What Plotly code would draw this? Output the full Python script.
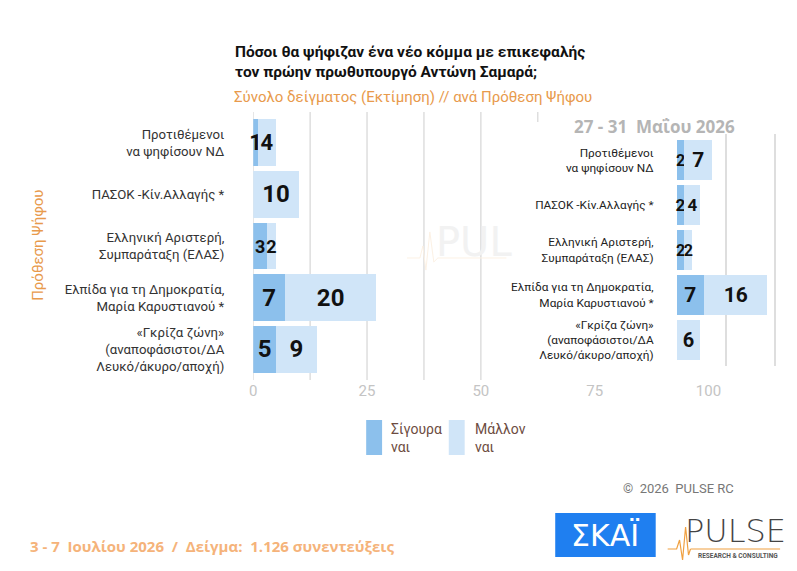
import plotly.graph_objects as go

W, H = 797, 571

# ---------------- data ----------------
categories = [
    "Προτιθέμενοι<br>να ψηφίσουν ΝΔ",
    "ΠΑΣΟΚ -Κίν.Αλλαγής *",
    "Ελληνική Αριστερή,<br>Συμπαράταξη (ΕΛΑΣ)",
    "Ελπίδα για τη Δημοκρατία,<br>Μαρία Καρυστιανού *",
    "«Γκρίζα ζώνη»<br>(αναποφάσιστοι/ΔΑ<br>Λευκό/άκυρο/αποχή)",
]
series_names = ["Σίγουρα ναι", "Μάλλον ναι"]

# current wave (3 - 7 Ιουλίου 2026)
cur_sure = [1, 0, 3, 7, 5]
cur_maybe = [4, 10, 2, 20, 9]

# previous wave (27 - 31 Μαΐου 2026)
prev_sure = [2, 2, 2, 7, 0]
prev_maybe = [7, 4, 2, 16, 6]

x_ticks = [0, 25, 50, 75, 100]

# label font sizes (as seen in the picture)
cur_sure_fs = [22, 22, 18, 24, 24]
cur_maybe_fs = [22, 24, 18, 24, 24]
prev_sure_fs = [16, 17, 16, 21, 16]
prev_maybe_fs = [21, 17, 16, 21, 20]

# ---------------- style ----------------
C_SURE = "#8cc0ec"
C_MAYBE = "#d0e5f8"
GRID = "#dedede"
ORANGE = "#e89a4c"
NUMFONT = "Roboto, sans-serif"


def px(x):
    return x / W


def py(y):
    return 1 - y / H


def lbl(v):
    return [str(a) if a else "" for a in v]


fig = go.Figure()

# left panel (current)
fig.add_trace(go.Bar(
    y=categories, x=cur_sure, orientation="h", name=series_names[0],
    marker=dict(color=C_SURE, line=dict(width=0)), width=0.91,
    text=lbl(cur_sure), textposition="inside", insidetextanchor="middle",
    constraintext="none", cliponaxis=False,
    textfont=dict(family=NUMFONT, size=cur_sure_fs, color="#111111", weight="bold"),
    xaxis="x", yaxis="y", showlegend=False, hoverinfo="x+y+name"))
fig.add_trace(go.Bar(
    y=categories, x=cur_maybe, orientation="h", name=series_names[1],
    marker=dict(color=C_MAYBE, line=dict(width=0)), width=0.91,
    text=lbl(cur_maybe), textposition="inside", insidetextanchor="middle",
    constraintext="none", cliponaxis=False,
    textfont=dict(family=NUMFONT, size=cur_maybe_fs, color="#111111", weight="bold"),
    xaxis="x", yaxis="y", showlegend=False, hoverinfo="x+y+name"))

# right panel (previous)
fig.add_trace(go.Bar(
    y=categories, x=prev_sure, orientation="h", name=series_names[0],
    marker=dict(color=C_SURE, line=dict(width=0)), width=0.9,
    text=lbl(prev_sure), textposition="inside", insidetextanchor="middle",
    constraintext="none", cliponaxis=False,
    textfont=dict(family=NUMFONT, size=prev_sure_fs, color="#111111", weight="bold"),
    xaxis="x2", yaxis="y2", showlegend=False, hoverinfo="x+y+name"))
fig.add_trace(go.Bar(
    y=categories, x=prev_maybe, orientation="h", name=series_names[1],
    marker=dict(color=C_MAYBE, line=dict(width=0)), width=0.9,
    text=lbl(prev_maybe), textposition="inside", insidetextanchor="middle",
    constraintext="none", cliponaxis=False,
    textfont=dict(family=NUMFONT, size=prev_maybe_fs, color="#111111", weight="bold"),
    xaxis="x2", yaxis="y2", showlegend=False, hoverinfo="x+y+name"))

left_scale = 4.575  # px per unit
right_scale = 3.96

fig.update_layout(
    width=W, height=H,
    margin=dict(l=0, r=0, t=0, b=0),
    paper_bgcolor="white", plot_bgcolor="white",
    barmode="stack",
    showlegend=False,
    font=dict(family="Roboto, sans-serif", color="#333333"),
    xaxis=dict(
        domain=[px(250.5), 1], range=[0, (W - 250.5) / left_scale],
        tickvals=x_ticks, ticktext=[str(v) for v in x_ticks],
        showgrid=False, zeroline=False, showline=False, ticks="",
        tickfont=dict(size=15, color="#c4c4c4"), anchor="y", fixedrange=True,
    ),
    yaxis=dict(
        domain=[py(380), py(112)], range=[4.6, -0.6],
        showgrid=False, zeroline=False, showline=False, ticks="",
        ticklabelstandoff=28,
        tickfont=dict(size=13.2, color="#333333"), anchor="x", fixedrange=True,
    ),
    xaxis2=dict(
        domain=[px(676), 1], range=[0, (W - 676) / right_scale],
        tickvals=[0, 12.5, 25], showticklabels=False,
        showgrid=True, gridcolor=GRID, gridwidth=1.5,
        zeroline=False, showline=False, ticks="", anchor="y2", fixedrange=True,
    ),
    yaxis2=dict(
        domain=[py(366), py(134)], range=[4.58, -0.58],
        showgrid=False, zeroline=False, showline=False, ticks="",
        ticklabelstandoff=22,
        tickfont=dict(size=11.8, color="#222222"), anchor="x2", fixedrange=True,
    ),
)

shapes = []
# left panel gridlines (the right part is hidden behind the inset panel)
for v in [0, 12.5, 25, 37.5, 50]:
    shapes.append(dict(type="line", xref="x", yref="paper", x0=v, x1=v,
                       y0=py(380), y1=py(112), line=dict(color=GRID, width=1.5),
                       layer="below"))
shapes.append(dict(type="line", xref="x", yref="paper", x0=62.5, x1=62.5,
                   y0=py(122), y1=py(112), line=dict(color=GRID, width=1.5),
                   layer="below"))

# custom legend swatches
shapes.append(dict(type="rect", xref="paper", yref="paper",
                   x0=px(364), x1=px(380), y0=py(455), y1=py(420),
                   fillcolor=C_SURE, line=dict(width=0)))
shapes.append(dict(type="rect", xref="paper", yref="paper",
                   x0=px(447), x1=px(463), y0=py(455), y1=py(420),
                   fillcolor=C_MAYBE, line=dict(width=0)))

# SKAI logo box
shapes.append(dict(type="rect", xref="paper", yref="paper",
                   x0=px(554), x1=px(655), y0=py(557), y1=py(513),
                   fillcolor="#1f7ff0", line=dict(width=0)))
# PULSE logo lines
shapes.append(dict(type="line", xref="paper", yref="paper",
                   x0=px(690), x1=px(780), y0=py(549), y1=py(549),
                   line=dict(color="#f0a040", width=1.2)))
pulse_pts = [(667, 549), (676, 549), (679, 540), (682, 560), (685, 527), (688, 555), (690, 549)]
path = "M " + " L ".join(f"{px(a):.4f},{py(b):.4f}" for a, b in pulse_pts)
shapes.append(dict(type="path", xref="paper", yref="paper", path=path,
                   line=dict(color="#f0a040", width=1.2)))
# faint watermark pulse
wm_pts = [(405, 258), (418, 258), (421, 246), (424, 270), (428, 232), (432, 262), (436, 258), (505, 258)]
path2 = "M " + " L ".join(f"{px(a):.4f},{py(b):.4f}" for a, b in wm_pts)
shapes.append(dict(type="path", xref="paper", yref="paper", path=path2,
                   line=dict(color="#fcf1e4", width=1), layer="below"))

annotations = [
    dict(text="<b>Πόσοι θα ψήφιζαν ένα νέο κόμμα με επικεφαλής<br>τον πρώην πρωθυπουργό Αντώνη Σαμαρά;</b>",
         x=px(230), y=py(41), xref="paper", yref="paper", xanchor="left", yanchor="top",
         align="left", showarrow=False,
         font=dict(family="Roboto, sans-serif", size=15.5, color="#111111")),
    dict(text="Σύνολο δείγματος (Εκτίμηση) // ανά Πρόθεση Ψήφου",
         x=px(229), y=py(97), xref="paper", yref="paper", xanchor="left", yanchor="middle",
         showarrow=False,
         font=dict(family="Roboto, sans-serif", size=15, color=ORANGE)),
    dict(text="Πρόθεση Ψήφου", textangle=-90,
         x=px(34), y=py(245), xref="paper", yref="paper", xanchor="center", yanchor="middle",
         showarrow=False, font=dict(family="Roboto, sans-serif", size=15, color=ORANGE)),
    dict(text="<b>27 - 31  Μαΐου 2026</b>",
         x=px(654), y=py(126), xref="paper", yref="paper", xanchor="center", yanchor="middle",
         showarrow=False, font=dict(family="Open Sans, sans-serif", size=17, color="#b5b5b5")),
    dict(text="Σίγουρα<br>ναι", x=px(387), y=py(438), xref="paper", yref="paper",
         xanchor="left", yanchor="middle", align="left", showarrow=False,
         font=dict(family="Roboto, sans-serif", size=14, color="#6d4c41")),
    dict(text="Μάλλον<br>ναι", x=px(471), y=py(438), xref="paper", yref="paper",
         xanchor="left", yanchor="middle", align="left", showarrow=False,
         font=dict(family="Roboto, sans-serif", size=14, color="#6d4c41")),
    dict(text="©  2026  PULSE RC", x=px(678), y=py(488), xref="paper", yref="paper",
         xanchor="center", yanchor="middle", showarrow=False,
         font=dict(family="Roboto, sans-serif", size=13, color="#777777")),
    dict(text="<b>3 - 7  Ιουλίου 2026  /  Δείγμα:  1.126 συνεντεύξεις</b>",
         x=px(24), y=py(546), xref="paper", yref="paper", xanchor="left", yanchor="middle",
         showarrow=False, font=dict(family="Open Sans, sans-serif", size=15, color="#f5b37a")),
    dict(text="ΣΚΑΪ", x=px(604.5), y=py(535), xref="paper", yref="paper",
         xanchor="center", yanchor="middle", showarrow=False,
         font=dict(family="DejaVu Sans, sans-serif", size=30, color="white")),
    dict(text="PULSE", x=px(735), y=py(531), xref="paper", yref="paper",
         xanchor="center", yanchor="middle", showarrow=False,
         font=dict(family="DejaVu Sans, sans-serif", size=32, color="#444444", weight=300)),
    dict(text="<b>RESEARCH & CONSULTING</b>", x=px(780), y=py(556), xref="paper", yref="paper",
         xanchor="right", yanchor="middle", showarrow=False,
         font=dict(family="Roboto, sans-serif", size=6.5, color="#555555")),
    dict(text="PUL", x=px(472), y=py(242), xref="paper", yref="paper",
         xanchor="center", yanchor="middle", showarrow=False,
         font=dict(family="DejaVu Sans, sans-serif", size=40, color="#f2f2f2")),
]

fig.update_layout(shapes=shapes, annotations=annotations)

fig.write_html("out.html")
